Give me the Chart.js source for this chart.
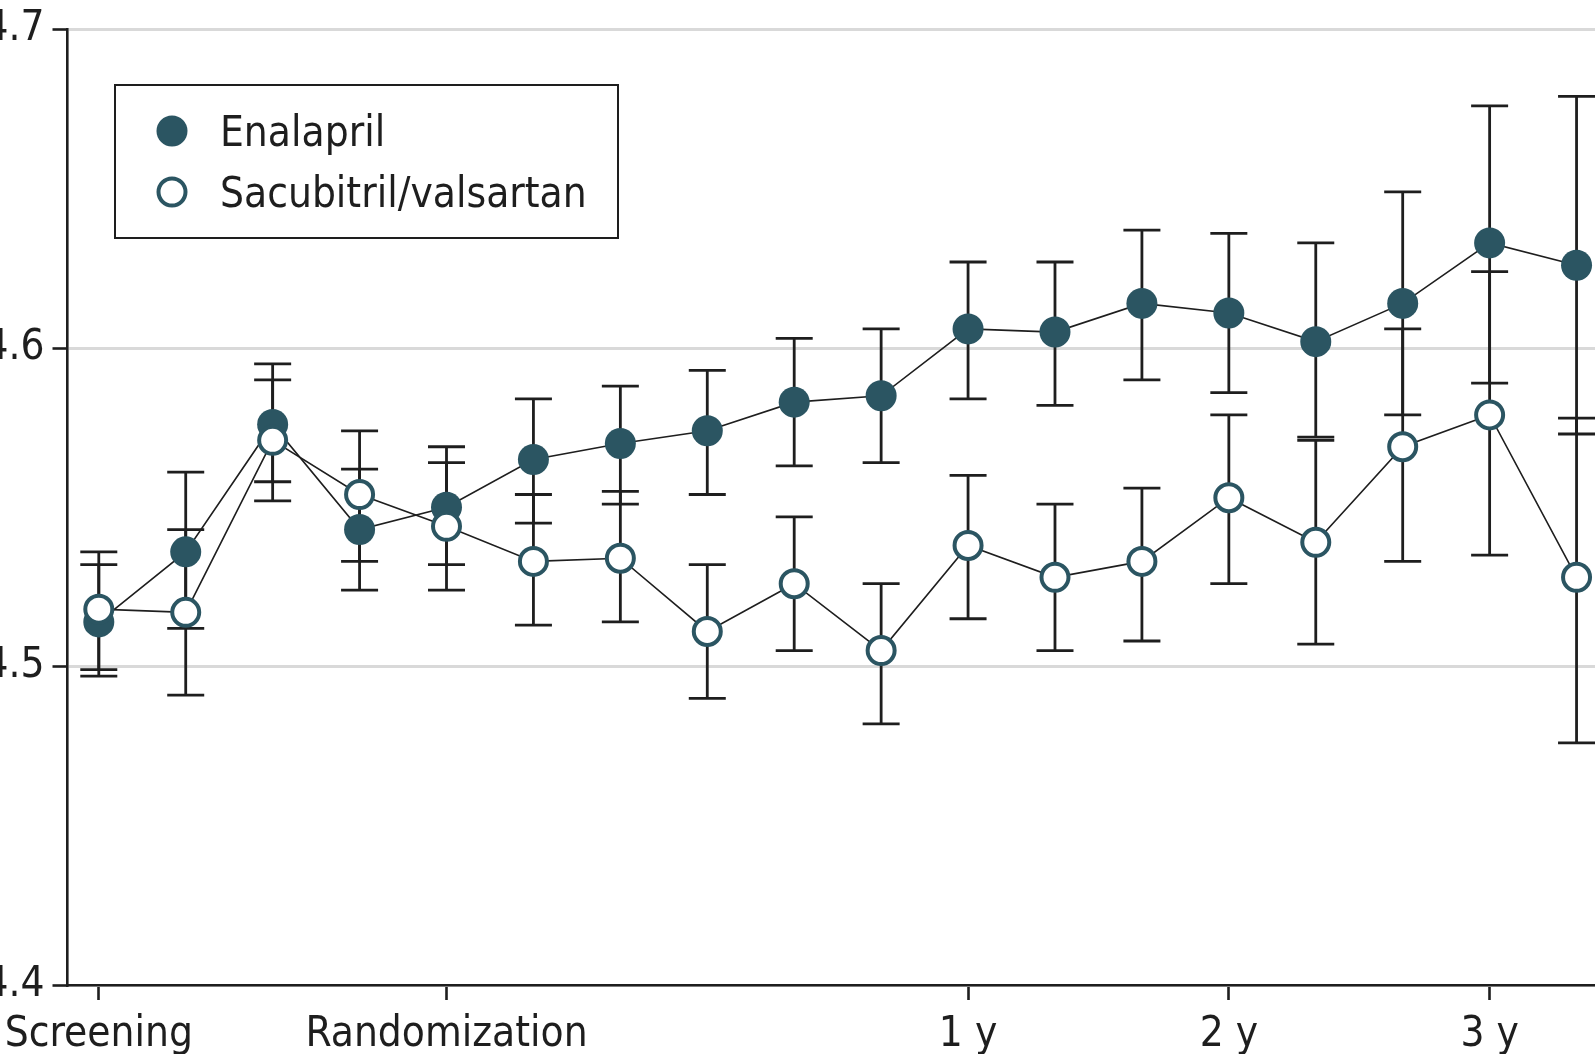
<!DOCTYPE html>
<html><head><meta charset="utf-8">
<script src="https://cdn.jsdelivr.net/npm/chart.js@4.4.1/dist/chart.umd.min.js"></script>
<style>
html,body{margin:0;padding:0;overflow:hidden;background:#fff;width:1595px;height:1054px;position:relative}
#c{position:absolute;left:-40px;top:0}
</style></head>
<body><canvas id="c" width="1700" height="1104"></canvas>
<script>
const visitIndex = [0,1,2,3,4,5,6,7,8,9,10,11,12,13,14,15,16,17];
const tickPositions = [0,4,10,13,16];
const tickLabels = ['Screening','Randomization','1 y','2 y','3 y'];
const yTickValues = [4.4,4.5,4.6,4.7];
const seriesNames = ['Enalapril','Sacubitril/valsartan'];

const enalaprilMean  = [4.514,4.536,4.576,4.543,4.550,4.565,4.570,4.574,4.583,4.585,4.606,4.605,4.614,4.611,4.602,4.614,4.633,4.626];
const enalaprilUpper = [4.532,4.561,4.595,4.562,4.569,4.584,4.588,4.593,4.603,4.606,4.627,4.627,4.637,4.636,4.633,4.649,4.676,4.679];
const enalaprilLower = [4.497,4.512,4.558,4.524,4.532,4.545,4.551,4.554,4.563,4.564,4.584,4.582,4.590,4.586,4.572,4.579,4.589,4.573];

const sacubitrilMean  = [4.518,4.517,4.571,4.554,4.544,4.533,4.534,4.511,4.526,4.505,4.538,4.528,4.533,4.553,4.539,4.569,4.579,4.528];
const sacubitrilUpper = [4.536,4.543,4.590,4.574,4.564,4.554,4.555,4.532,4.547,4.526,4.560,4.551,4.556,4.579,4.571,4.606,4.624,4.578];
const sacubitrilLower = [4.499,4.491,4.552,4.533,4.524,4.513,4.514,4.490,4.505,4.482,4.515,4.505,4.508,4.526,4.507,4.533,4.535,4.476];

const TEAL = '#2b5562';
const INK = '#1e1e1e';
const FONT = '"Liberation Sans Narrow", "DejaVu Sans Condensed", "Noto Sans", sans-serif';

const toPts = arr => arr.map((v,i)=>({x:visitIndex[i], y:v}));

const errorBars = {
  id:'errorBars',
  beforeDatasetsDraw(chart){
    const {ctx, scales:{x,y}} = chart;
    const sets = [[enalaprilLower,enalaprilUpper],[sacubitrilLower,sacubitrilUpper]];
    ctx.save();
    ctx.strokeStyle = INK; ctx.lineWidth = 2.8; ctx.lineCap='butt';
    sets.forEach(([lo,hi])=>{
      visitIndex.forEach((v,i)=>{
        const px = x.getPixelForValue(v);
        const a = y.getPixelForValue(lo[i]), b = y.getPixelForValue(hi[i]);
        ctx.beginPath();
        ctx.moveTo(px,a); ctx.lineTo(px,b);
        ctx.moveTo(px-18.5,a); ctx.lineTo(px+18.5,a);
        ctx.moveTo(px-18.5,b); ctx.lineTo(px+18.5,b);
        ctx.stroke();
      });
    });
    ctx.restore();
  }
};

const boxLegend = {
  id:'boxLegend',
  afterDraw(chart){
    const ctx = chart.ctx;
    const ox = 40;
    ctx.save();
    ctx.strokeStyle = INK; ctx.lineWidth = 2;
    ctx.strokeRect(ox+115, 85, 503, 153);
    const rows = [131, 192];
    ctx.beginPath(); ctx.arc(ox+172, rows[0], 15.5, 0, Math.PI*2); ctx.fillStyle=TEAL; ctx.fill();
    ctx.beginPath(); ctx.arc(ox+172, rows[1], 13.5, 0, Math.PI*2); ctx.fillStyle='#fff'; ctx.fill();
    ctx.lineWidth = 4; ctx.strokeStyle = TEAL; ctx.stroke();
    ctx.fillStyle = INK; ctx.font = '42px ' + FONT; ctx.textBaseline='middle'; ctx.textAlign='left';
    ctx.fillText(seriesNames[0], ox+220, rows[0]+4);
    ctx.fillText(seriesNames[1], ox+220, rows[1]+4);
    ctx.restore();
  }
};

new Chart(document.getElementById('c'), {
  type:'line',
  data:{
    datasets:[
      {label:seriesNames[0], data:toPts(enalaprilMean), order:2,
       borderColor:INK, borderWidth:1.6, pointRadius:15.5, pointBackgroundColor:TEAL,
       pointBorderColor:TEAL, pointBorderWidth:0, fill:false, tension:0, clip:false},
      {label:seriesNames[1], data:toPts(sacubitrilMean), order:1,
       borderColor:INK, borderWidth:1.6, pointRadius:13.5, pointBackgroundColor:'#ffffff',
       pointBorderColor:TEAL, pointBorderWidth:4, fill:false, tension:0, clip:false}
    ]
  },
  options:{
    responsive:false, animation:false, devicePixelRatio:1,
    layout:{autoPadding:false, padding:{top:29.5,left:0,right:0,bottom:0}},
    plugins:{legend:{display:false}, tooltip:{enabled:false}},
    scales:{
      x:{type:'linear', min:-0.36, max:17.96,
         border:{display:true,color:INK,width:2.6},
         grid:{display:true, drawOnChartArea:false, drawTicks:true, tickLength:15, tickColor:INK, tickWidth:2.6},
         afterBuildTicks:s=>{ s.ticks = tickPositions.map(v=>({value:v})); },
         afterFit:s=>{ s.height = 119; },
         ticks:{autoSkip:false, maxRotation:0, padding:10, color:INK, font:{family:FONT,size:42},
           callback:(v)=>{ const k = tickPositions.indexOf(v); return k>=0 ? tickLabels[k] : ''; }}
      },
      y:{min:4.4, max:4.7,
         border:{display:true,color:INK,width:2.6},
         grid:{color:'#d9d9d9', lineWidth:3, tickLength:15, tickColor:INK, tickWidth:2.6},
         afterBuildTicks:s=>{ s.ticks = yTickValues.map(v=>({value:v})); },
         afterFit:s=>{ s.width = 107.5; s.paddingTop = 0; s.paddingBottom = 0; },
         ticks:{padding:8, color:INK, font:{family:FONT,size:42,lineHeight:1}, callback:v=>Number(v).toFixed(1)}
      }
    }
  },
  plugins:[errorBars, boxLegend]
});
</script>
</body></html>
